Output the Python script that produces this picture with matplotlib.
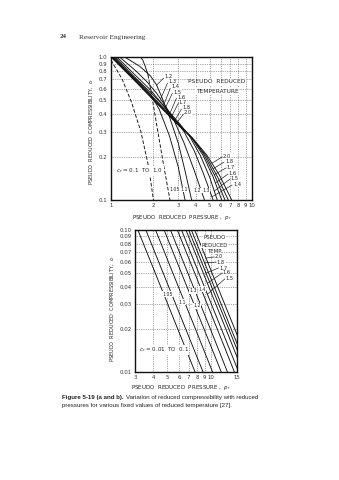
import numpy as np
import matplotlib.pyplot as plt
from matplotlib.ticker import FixedLocator, NullLocator

# ---- chart (a): c_r = 0.1 TO 1.0, curves ----
a_pr = {
    "1.05": [1.62, 1.68, 1.75, 1.83, 1.97, 2.15, 2.35, 2.62],
    "1.1": [1.0, 1.3, 1.6, 1.9, 2.2, 2.6, 3.0, 3.35],
    "1.2": [1.25, 1.6, 1.9, 2.1, 2.3, 2.6, 3.0, 3.35, 3.73],
    "1.3": [1.15, 1.5, 1.8, 2.1, 2.45, 2.8, 3.3, 3.9, 4.6],
    "1.4": [1.1, 1.5, 1.9, 2.3, 2.8, 3.3, 3.9, 4.5, 5.3],
    "1.5": [1.07, 1.5, 2.0, 2.5, 3.0, 3.6, 4.3, 5.0, 5.67],
    "1.6": [1.05, 1.5, 2.0, 2.5, 3.0, 3.7, 4.5, 5.3, 6.1],
    "1.7": [1.03, 1.5, 2.0, 2.5, 3.0, 3.8, 4.6, 5.5, 6.43],
    "1.8": [1.02, 1.5, 2.0, 2.5, 3.0, 3.8, 4.7, 5.7, 6.79],
    "2.0": [1.0, 1.5, 2.0, 2.5, 3.0, 3.9, 4.8, 5.9, 7.18],
}
a_cr = {
    "1.05": [1.0, 0.95, 0.86, 0.75, 0.50, 0.30, 0.18, 0.10],
    "1.1": [1.0, 0.80, 0.66, 0.55, 0.43, 0.28, 0.17, 0.10],
    "1.2": [1.0, 0.86, 0.74, 0.64, 0.52, 0.38, 0.25, 0.16, 0.10],
    "1.3": [1.0, 0.80, 0.67, 0.56, 0.45, 0.36, 0.25, 0.16, 0.10],
    "1.4": [1.0, 0.74, 0.59, 0.47, 0.37, 0.30, 0.22, 0.155, 0.10],
    "1.5": [1.0, 0.71, 0.54, 0.43, 0.35, 0.28, 0.205, 0.145, 0.10],
    "1.6": [1.0, 0.69, 0.52, 0.415, 0.345, 0.275, 0.205, 0.145, 0.10],
    "1.7": [1.0, 0.68, 0.51, 0.41, 0.34, 0.27, 0.205, 0.145, 0.10],
    "1.8": [1.0, 0.675, 0.505, 0.405, 0.337, 0.268, 0.205, 0.145, 0.10],
    "2.0": [1.0, 0.67, 0.50, 0.40, 0.334, 0.262, 0.205, 0.148, 0.10],
}
# the unlabelled dashed line at far left
a_dash_pr = [1.0, 1.2, 1.4, 1.63, 1.85, 2.0]
a_dash_cr = [0.95, 0.70, 0.48, 0.30, 0.17, 0.10]

a_xticks = [1, 2, 3, 4, 5, 6, 7, 8, 9, 10]
a_yticks = [0.1, 0.2, 0.3, 0.4, 0.5, 0.6, 0.7, 0.8, 0.9, 1.0]
a_yticklabels = ["0.1", "0.2", "0.3", "0.4", "0.5", "0.6", "0.7", "0.8", "0.9", "1.0"]

# ---- chart (b): c_r = 0.01 TO 0.1, pr where each line crosses these c_r levels ----
b_cr_levels = [0.10, 0.05, 0.02, 0.01]
b_lines_pr = [
    [3.14, 4.12, 5.90, 7.74],   # 1.05
    [3.56, 4.67, 6.69, 8.78],   # 1.1
    [4.15, 5.44, 7.80, 10.2],
    [4.75, 6.23, 8.93, 11.7],   # 1.2
    [5.25, 6.89, 9.87, 12.9],   # 1.3
    [5.85, 7.68, 11.0, 14.4],   # 1.4
    [6.25, 8.20, 11.75, 15.4],  # 1.5
    [6.70, 8.79, 12.6, 16.5],   # 1.6
    [7.00, 9.18, 13.2, 17.3],   # 1.7
    [7.30, 9.58, 13.7, 18.0],   # 1.8
    [7.70, 10.1, 14.5, 19.0],   # 2.0
]
b_xticks = [3, 4, 5, 6, 7, 8, 9, 10, 15]
b_yticks = [0.01, 0.02, 0.03, 0.04, 0.05, 0.06, 0.07, 0.08, 0.09, 0.10]
b_yticklabels = ["0.01", "0.02", "0.03", "0.04", "0.05", "0.06", "0.07", "0.08", "0.09", "0.10"]

INK = "#111111"
W, H = 339, 480


def on_curve(prs, crs, p):
    return 10 ** np.interp(np.log10(p), np.log10(prs), np.log10(crs))


def setup(ax, xlim, ylim, xt, yt, ytl):
    ax.set_xscale("log")
    ax.set_yscale("log")
    ax.set_xlim(*xlim)
    ax.set_ylim(*ylim)
    ax.xaxis.set_major_locator(FixedLocator(xt))
    ax.yaxis.set_major_locator(FixedLocator(yt))
    ax.xaxis.set_minor_locator(NullLocator())
    ax.yaxis.set_minor_locator(NullLocator())
    ax.set_xticklabels([str(v) for v in xt])
    ax.set_yticklabels(ytl)
    ax.tick_params(length=0, pad=2.5, labelsize=3.9, colors="#333")
    ax.grid(True, ls=(0, (1, 1.6)), lw=0.5, color="#555")
    for s in ax.spines.values():
        s.set_linewidth(1.0)
        s.set_color(INK)


def px(x, y):
    return x / W, 1 - y / H


fig = plt.figure(figsize=(W / 100, H / 100), dpi=100)

fig.text(*px(60, 37), "24", family="Liberation Serif", fontsize=5, weight="bold",
         va="center", color="#333")
fig.text(*px(79, 37), "Reservoir Engineering", family="Liberation Serif", fontsize=5.2,
         va="center", color="#333")

# ---------- chart (a) ----------
ax1 = fig.add_axes([111 / W, 1 - 200 / H, 141 / W, 143 / H])
setup(ax1, (1, 10), (0.1, 1.0), a_xticks, a_yticks, a_yticklabels)

for tr in a_pr:
    p, c = a_pr[tr], a_cr[tr]
    if tr == "1.05":
        ax1.plot(p[:4], c[:4], color=INK, lw=0.65)
        ax1.plot(p[3:], c[3:], color=INK, lw=0.65, ls=(0, (4, 2)))
    else:
        ax1.plot(p, c, color=INK, lw=0.65)
ax1.plot(a_dash_pr, a_dash_cr, color=INK, lw=0.65, ls=(0, (4, 2)))

fs = 3.7
# upper label cluster with short leaders
up_labels = ["1.2", "1.3", "1.4", "1.5", "1.6", "1.7", "1.8", "2.0"]
up_pos = [(2.38, 0.725), (2.54, 0.669), (2.66, 0.617), (2.75, 0.569),
          (2.94, 0.525), (3.03, 0.484), (3.19, 0.44), (3.29, 0.406)]
for lab, (x, y) in zip(up_labels, up_pos):
    ax1.text(x, y, lab, fontsize=fs, ha="left", va="center", color="#222",
             bbox=dict(fc="white", ec="none", pad=0.1))
    tp = x / 1.13
    ax1.plot([x * 0.99, tp], [y * 0.98, on_curve(a_pr[lab], a_cr[lab], tp)],
             color=INK, lw=0.45)

# right label cluster with leaders
rt_labels = ["2.0", "1.8", "1.7", "1.6", "1.5", "1.4"]
rt_pos = [(6.23, 0.203), (6.43, 0.187), (6.63, 0.170), (6.85, 0.154),
          (7.08, 0.142), (7.32, 0.129)]
rt_tip = [5.2, 5.3, 5.4, 5.5, 5.4, 5.2]
for lab, (x, y), tp in zip(rt_labels, rt_pos, rt_tip):
    ax1.text(x, y, lab, fontsize=fs, ha="left", va="center", color="#222",
             bbox=dict(fc="white", ec="none", pad=0.1))
    ax1.plot([x * 0.985, tp], [y * 0.985, on_curve(a_pr[lab], a_cr[lab], tp)],
             color=INK, lw=0.45)

# bottom labels
for lab, (x, y) in zip(["1.05", "1.1", "1.2", "1.3"],
                       [(2.84, 0.119), (3.29, 0.119), (4.12, 0.117), (4.72, 0.117)]):
    ax1.text(x, y, lab, fontsize=fs - 0.3, ha="center", va="center", color="#222",
             bbox=dict(fc="white", ec="none", pad=0.1))

ax1.text(1.6, 0.16, "$c_r$ = 0.1  TO  1.0", fontsize=4, ha="center", va="center",
         color="#222", bbox=dict(fc="white", ec="none", pad=0.3))
ax1.text(5.64, 0.669, "PSEUDO  REDUCED", fontsize=4.2, ha="center", va="center",
         color="#222", bbox=dict(fc="white", ec="none", pad=0.3))
ax1.text(5.64, 0.578, "TEMPERATURE", fontsize=4.2, ha="center", va="center",
         color="#222", bbox=dict(fc="white", ec="none", pad=0.3))

fig.text(*px(182, 218), "PSEUDO  REDUCED  PRESSURE ,  $p_r$", fontsize=4,
         ha="center", va="center", color="#222")
fig.text(*px(92, 131), "PSEUDO  REDUCED  COMPRESSIBILITY,  $c_r$", fontsize=3.6,
         rotation=90, ha="center", va="center", color="#222")

# ---------- chart (b) ----------
ax2 = fig.add_axes([135 / W, 1 - 372 / H, 102 / W, 142 / H])
setup(ax2, (3, 15), (0.01, 0.1), b_xticks, b_yticks, b_yticklabels)

for p in b_lines_pr:
    ax2.plot(p, b_cr_levels, color=INK, lw=0.65)

for lab, (x, y) in zip(["1.05", "1.1", "1.2", "1.3", "1.4"],
                       [(5.04, 0.0354), (6.29, 0.0311), (7.98, 0.0292),
                        (7.47, 0.0372), (8.63, 0.0384)]):
    ax2.text(x, y, lab, fontsize=fs - 0.3, ha="center", va="center", color="#222",
             bbox=dict(fc="white", ec="none", pad=0.1))

bt_labels = ["2.0", "1.8", "1.7", "1.6", "1.5"]
bt_lines = [10, 9, 8, 7, 6]
bt_pos = [(10.6, 0.0646), (10.9, 0.0595), (11.3, 0.054), (12.0, 0.0498), (12.5, 0.0452)]
bt_tip = [9.2, 9.0, 9.2, 9.4, 9.4]
for lab, li, (x, y), tp in zip(bt_labels, bt_lines, bt_pos, bt_tip):
    ax2.text(x, y, lab, fontsize=fs, ha="left", va="center", color="#222",
             bbox=dict(fc="white", ec="none", pad=0.2))
    ax2.plot([x * 0.99, tp], [y, on_curve(b_lines_pr[li], b_cr_levels, tp)],
             color=INK, lw=0.45)

for txt, y in zip(["PSEUDO", "REDUCED", "TEMP."], [0.0879, 0.0784, 0.0711]):
    ax2.text(10.5, y, txt, fontsize=3.9, ha="center", va="center", color="#222",
             bbox=dict(fc="white", ec="none", pad=0.2))

ax2.text(4.74, 0.0143, "$c_r$ = 0.01  TO  0.1", fontsize=4, ha="center", va="center",
         color="#222", bbox=dict(fc="white", ec="none", pad=0.3))

fig.text(*px(181, 388), "PSEUDO  REDUCED  PRESSURE ,  $p_r$", fontsize=4,
         ha="center", va="center", color="#222")
fig.text(*px(113, 308), "PSEUDO  REDUCED  COMPRESSIBILITY,  $c_r$", fontsize=3.6,
         rotation=90, ha="center", va="center", color="#222")

# ---------- caption ----------
cap_font = dict(family="Liberation Sans", fontsize=4.4, va="center", color="#222")
t1 = fig.text(*px(62, 398), "Figure 5-19 (a and b).", weight="bold", **cap_font)
r = fig.canvas.get_renderer()
x_end = fig.transFigure.inverted().transform(t1.get_window_extent(renderer=r))[1][0]
fig.text(x_end + 2 / W, 1 - 398 / H,
         "Variation of reduced compressibility with reduced", **cap_font)
fig.text(*px(62, 406), "pressures for various fixed values of reduced temperature [27].",
         **cap_font)

fig.savefig("out.png", dpi=100, facecolor="white")
